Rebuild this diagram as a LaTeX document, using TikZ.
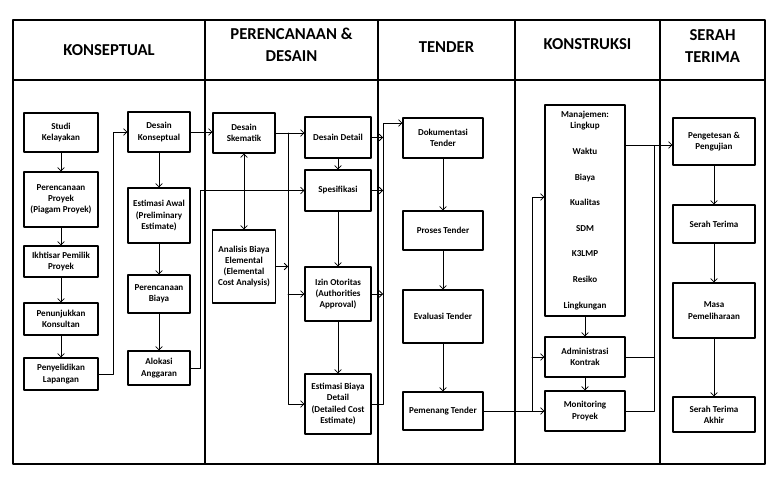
\documentclass[tikz,border=0pt]{standalone}
\usepackage{fontspec}
\setmainfont{Carlito}
\usetikzlibrary{arrows.meta}

\tikzset{
  kotak/.style={draw, line width=0.8pt, align=center, inner sep=1pt,
    font=\fontsize{6.8}{8.4}\selectfont\bfseries},
  kolA/.style={kotak, minimum width=55.5pt},
  kolB/.style={kotak, minimum width=46.5pt},
  kolC/.style={kotak, minimum width=49.5pt},
  kolD/.style={kotak, minimum width=60pt},
  kolE/.style={kotak, minimum width=61.5pt},
  judul/.style={align=center, font=\fontsize{12.5}{16.5}\selectfont\bfseries},
  alur/.style={->, line width=0.6pt},
  garis/.style={line width=1.2pt}
}

\begin{document}
\begin{tikzpicture}[line cap=round,line join=round,>={Straight Barb[length=2.5pt,width=5pt]},x=0.75pt,y=-0.75pt]
\useasboundingbox (0,0) rectangle (767,478);
% tabel
\draw[garis] (13,20) rectangle (765,464);
\draw[garis] (13,80) -- (765,80);
\foreach \x in {205,378,515,660}
  \draw[garis] (\x,20) -- (\x,464);
% judul kolom
\node[judul] (hKonsep) at (109,50) {KONSEPTUAL};
\node[judul] (hDesain) at (291.5,45) {PERENCANAAN \&\\DESAIN};
\node[judul] (hTender) at (446.5,47) {TENDER};
\node[judul] (hKonstruksi) at (587.5,44) {KONSTRUKSI};
\node[judul] (hSerah) at (712.5,46) {SERAH\\TERIMA};
% konseptual
\node[kolA, minimum height=29.25pt] (studi) at (61,132.5) {Studi\\Kelayakan};
\node[kolA, minimum height=41.25pt] (rencana) at (61,199.5) {Perencanaan\\Proyek\\(Piagam Proyek)};
\node[kolA, minimum height=23.25pt] (ikhtisar) at (61,261.5) {Ikhtisar Pemilik\\Proyek};
\node[kolA, minimum height=24pt] (tunjuk) at (61,319) {Penunjukkan\\Konsultan};
\node[kolA, minimum height=24pt] (selidik) at (61,374) {Penyelidikan\\Lapangan};
\node[kolB, minimum height=30pt] (konsep) at (159,132) {Desain\\Konseptual};
\node[kolB, minimum height=41.25pt] (awal) at (159,215.5) {Estimasi Awal\\(Preliminary\\Estimate)};
\node[kolB, minimum height=28.5pt] (biaya) at (159,294) {Perencanaan\\Biaya};
\node[kolB, minimum height=25.5pt] (alokasi) at (159,368) {Alokasi\\Anggaran};
% perencanaan & desain
\node[kolB, minimum height=30pt] (skematik) at (244,133) {Desain\\Skematik};
\node[kolB, minimum width=47.25pt, minimum height=54.75pt] (elemental) at (244,266.5) {Analisis Biaya\\Elemental\\(Elemental\\Cost Analysis)};
\node[kolC, minimum height=30.75pt] (detail) at (338,137.5) {Desain Detail};
\node[kolC, minimum height=30.75pt] (spek) at (338,190.5) {Spesifikasi};
\node[kolC, minimum height=40.5pt] (izin) at (338,294) {Izin Otoritas\\(Authorities\\Approval)};
\node[kolC, minimum height=45pt] (estdetail) at (338,404) {Estimasi Biaya\\Detail\\(Detailed Cost\\Estimate)};
% tender
\node[kolD, minimum height=30pt] (dok) at (443,138) {Dokumentasi\\Tender};
\node[kolD, minimum height=29.25pt] (proses) at (443,230.5) {Proses Tender};
\node[kolD, minimum height=39.75pt] (evaluasi) at (443,316.5) {Evaluasi Tender};
\node[kolD, minimum height=28.5pt] (pemenang) at (443,411) {Pemenang Tender};
% konstruksi
\node[kolD, minimum height=158.25pt] (manaj) at (585,210.5) {Manajemen:\\Lingkup\\[10.8pt]Waktu\\[10.8pt]Biaya\\[10.8pt]Kualitas\\[10.8pt]SDM\\[10.8pt]K3LMP\\[10.8pt]Resiko\\[10.8pt]Lingkungan};
\node[kolD, minimum height=30pt] (admin) at (585,357) {Administrasi\\Kontrak};
\node[kolD, minimum height=30pt] (monitor) at (585,411) {Monitoring\\Proyek};
% serah terima
\node[kolE, minimum height=35.25pt] (uji) at (714,141.5) {Pengetesan \&\\Pengujian};
\node[kolE, minimum height=28.5pt] (serah) at (714,224) {Serah Terima};
\node[kolE, minimum height=41.25pt] (masa) at (714,310.5) {Masa\\Pemeliharaan};
\node[kolE, minimum height=26.25pt] (akhir) at (714,414.5) {Serah Terima\\Akhir};
% titik bantu
\coordinate (busB) at (288,133);
\coordinate (busC) at (383,123);
\coordinate (busD) at (532,197);
\coordinate (busE) at (654,145);
% alur konseptual
\draw[alur] (studi) -- (rencana);
\draw[alur] (rencana) -- (ikhtisar);
\draw[alur] (ikhtisar) -- (tunjuk);
\draw[alur] (tunjuk) -- (selidik);
\draw[alur] (selidik.east) -- ++(15,0) |- (konsep.west);
\draw[alur] (konsep) -- (awal);
\draw[alur] (awal) -- (biaya);
\draw[alur] (biaya) -- (alokasi);
\draw[alur] (konsep.east) -- (konsep.east -| skematik.west);
\draw[alur] (alokasi.east) -- ++(10,0) |- (spek.west);
% alur desain
\draw[<->, line width=0.6pt] (skematik) -- (elemental);
\draw[alur] (skematik.east) -- (skematik.east -| detail.west);
\draw[alur] (busB) |- (estdetail.west);
\draw[alur] (busB |- izin.west) -- (izin.west);
\draw[alur] (elemental.east) -- (elemental.east -| busB);
\draw[alur] (detail) -- (spek);
\draw[alur] (spek) -- (izin);
\draw[alur] (izin) -- (estdetail);
\draw[alur] (estdetail.east) -| (busC) -- (busC -| dok.west);
\foreach \n in {detail,spek,izin}
  \draw[alur] (\n.east) -- (\n.east -| busC);
% alur tender
\draw[alur] (dok) -- (proses);
\draw[alur] (proses) -- (evaluasi);
\draw[alur] (evaluasi) -- (pemenang);
\draw[alur] (pemenang.east) -| (busD) -- (busD -| manaj.west);
\draw[alur] (busD |- admin.west) -- (admin.west);
\draw[alur] (busD |- monitor.west) -- (monitor.west);
% alur konstruksi
\draw[alur] (manaj) -- (admin);
\draw[alur] (admin) -- (monitor);
\draw[alur] (monitor.east) -| (busE) -- (busE -| uji.west);
\draw[line width=0.6pt] (manaj.east |- busE) -- (busE);
\draw[line width=0.6pt] (admin.east) -- (admin.east -| busE);
% alur serah terima
\draw[alur] (uji) -- (serah);
\draw[alur] (serah) -- (masa);
\draw[alur] (masa) -- (akhir);
\end{tikzpicture}
\end{document}
